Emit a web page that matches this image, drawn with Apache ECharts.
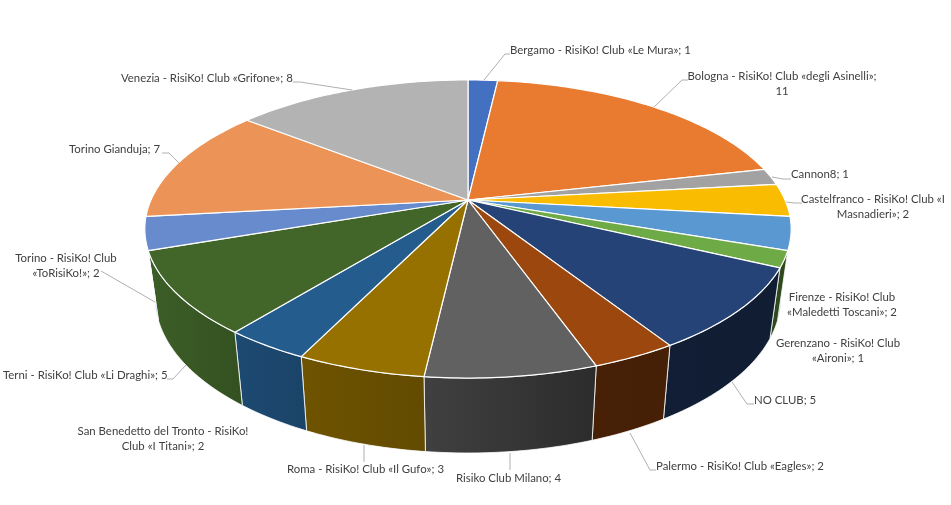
<!DOCTYPE html>
<html>
<head>
<meta charset="utf-8">
<style>html,body{margin:0;padding:0;background:#fff}#c{width:951px;height:505px}</style>
<script src="https://cdn.jsdelivr.net/npm/echarts@6/dist/echarts.min.js"></script>
</head>
<body>
<div id="c"></div>
<script>
const clubNames = [
  'Bergamo - RisiKo! Club «Le Mura»',
  'Bologna - RisiKo! Club «degli Asinelli»',
  'Cannon8',
  'Castelfranco - RisiKo! Club «I Masnadieri»',
  'Firenze - RisiKo! Club «Maledetti Toscani»',
  'Gerenzano - RisiKo! Club «Aironi»',
  'NO CLUB',
  'Palermo - RisiKo! Club «Eagles»',
  'Risiko Club Milano',
  'Roma - RisiKo! Club «Il Gufo»',
  'San Benedetto del Tronto - RisiKo! Club «I Titani»',
  'Terni - RisiKo! Club «Li Draghi»',
  'Torino - RisiKo! Club «ToRisiKo!»',
  'Torino Gianduja',
  'Venezia - RisiKo! Club «Grifone»'
];
const clubCounts = [1, 11, 1, 2, 2, 1, 5, 2, 4, 3, 2, 5, 2, 7, 8];
const sliceColors = ['#4472C4','#ED7D31','#A5A5A5','#FFC000','#5B9BD5','#70AD47','#264478','#9E480E','#636363','#997300','#255E91','#43682B','#698ED0','#F1975A','#B7B7B7'];

// label placement only (text anchor, line break, leader path)
const labelLayout = [
  {x:510,y:50,align:'left',leader:[[484,80],[505,54],[510,54]]},
  {x:782,y:83.5,align:'center',brk:'»;',leader:[[654,107],[682,80],[688,80]]},
  {x:791,y:174,align:'left',leader:[[772,177],[783,179],[791,179]]},
  {x:873,y:206.5,align:'center',brk:'«I',leader:[[786,202],[795,203],[802,203]]},
  {x:842,y:304.5,align:'center',brk:'RisiKo! Club'},
  {x:838,y:350.5,align:'center',brk:'RisiKo! Club'},
  {x:754,y:400,align:'left',leader:[[732,382],[747,404],[754,404]]},
  {x:656,y:466,align:'left',leader:[[630,433],[650,470],[656,470]]},
  {x:456,y:478,align:'left',leader:[[510,453],[510,470]]},
  {x:287,y:469,align:'left',leader:[[364,445],[364,462]]},
  {x:163,y:438.5,align:'center',brk:'RisiKo!',leader:null},
  {x:3,y:375,align:'left',leader:[[186,365],[173,379],[167,379]]},
  {x:66,y:265.5,align:'center',brk:'RisiKo! Club',leader:[[155,302],[101,271]]},
  {x:69,y:149,align:'left',leader:[[179,163],[169,153],[162,153]]},
  {x:121,y:78,align:'left',leader:[[352,90],[300,82],[293,82]]}
];

// projection of the tilted disc
const CX = 468, K = 0.1946, BX = 317;
const TOP = {y0:200, a:143.4, s:1};
const BOTTOM = {y0:268, a:149, s:0.968};
const WALL_FROM = 101 * Math.PI / 180, WALL_TO = 259 * Math.PI / 180;
function project(theta, d) {
  const u = Math.sin(theta), v = -Math.cos(theta), w = 1 - K * v;
  return [CX + d.s * BX * u / w, d.y0 + d.a * v / w];
}
const total = clubCounts.reduce((a, b) => a + b, 0);
function sliceAngles(i) {
  let before = 0;
  for (let j = 0; j < i; j++) before += clubCounts[j];
  return [before / total * 2 * Math.PI, (before + clubCounts[i]) / total * 2 * Math.PI];
}
function arc(t0, t1, d) {
  const n = Math.max(2, Math.ceil((t1 - t0) / (Math.PI / 180)));
  const pts = [];
  for (let i = 0; i <= n; i++) pts.push(project(t0 + (t1 - t0) * i / n, d));
  return pts;
}
const shadeStops = [[150,.90],[270,.74],[430,.64],[590,.45],[790,.42]];
function shadeAt(x) {
  if (x <= shadeStops[0][0]) return shadeStops[0][1];
  for (let i = 1; i < shadeStops.length; i++) {
    if (x <= shadeStops[i][0]) {
      const a = shadeStops[i-1], b = shadeStops[i];
      return a[1] + (b[1]-a[1]) * (x-a[0]) / (b[0]-a[0]);
    }
  }
  return shadeStops[shadeStops.length-1][1];
}
function shade(hex, f) {
  const n = parseInt(hex.slice(1), 16);
  return 'rgb(' + [(n>>16)&255,(n>>8)&255,n&255].map(c => Math.round(c*f)).join(',') + ')';
}
const EDGE = {stroke:'#fff', lineWidth:1.2, lineJoin:'round'};
const WALL_EDGE = {stroke:'#fff', lineWidth:0.8, lineJoin:'round'};
const TOP_SHADE = 0.98;

function renderWall(params) {
  const i = params.dataIndex, a = sliceAngles(i);
  const t0 = Math.max(a[0], WALL_FROM), t1 = Math.min(a[1], WALL_TO);
  if (t1 <= t0) return null;
  const pts = arc(t0, t1, TOP).concat(arc(t0, t1, BOTTOM).reverse());
  const xs = pts.map(p => p[0]), x0 = Math.min(...xs), x1 = Math.max(...xs);
  return {type:'polygon', shape:{points:pts}, style:Object.assign({
    fill:{type:'linear',global:true,x:x0,y:0,x2:x1,y2:0,colorStops:[
      {offset:0,color:shade(sliceColors[i],shadeAt(x0))},
      {offset:1,color:shade(sliceColors[i],shadeAt(x1))}]}
  }, WALL_EDGE)};
}
function renderTop(params) {
  const i = params.dataIndex, a = sliceAngles(i);
  const pts = [[CX, TOP.y0]].concat(arc(a[0], a[1], TOP));
  return {type:'polygon', shape:{points:pts}, style:Object.assign({fill:shade(sliceColors[i],TOP_SHADE)}, EDGE)};
}
function renderLabel(params) {
  const i = params.dataIndex, L = labelLayout[i];
  let text = clubNames[i] + '; ' + clubCounts[i];
  if (L.brk) {
    const at = text.indexOf(L.brk) + L.brk.length;
    text = text.slice(0, at).trim() + '\n' + text.slice(at).trim();
  }
  const children = [];
  if (L.leader) children.push({type:'polyline', shape:{points:L.leader}, style:{fill:null, stroke:'#B0B0B0', lineWidth:1}});
  children.push({type:'text', x:L.x, y:L.y, style:{
    text:text, fill:'#404040', font:'11.4px Lato', lineHeight:15,
    align:L.align, verticalAlign:'middle'}});
  return {type:'group', children:children};
}
const seriesData = clubNames.map((n, i) => ({name:n, value:clubCounts[i]}));
const chart = echarts.init(document.getElementById('c'), null, {renderer:'canvas', width:951, height:505});
chart.setOption({
  animation:false,
  backgroundColor:'#fff',
  tooltip:{show:false},
  series:[
    {type:'custom', name:'walls', coordinateSystem:'none', renderItem:renderWall, data:seriesData, z:1, silent:true},
    {type:'custom', name:'tops', coordinateSystem:'none', renderItem:renderTop, data:seriesData, z:2, silent:true},
    {type:'custom', name:'labels', coordinateSystem:'none', renderItem:renderLabel, data:seriesData, z:3, silent:true}
  ]
});
</script>
</body>
</html>
